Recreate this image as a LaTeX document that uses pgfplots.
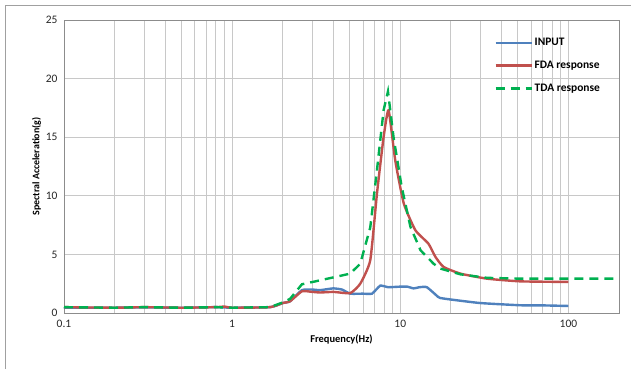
\documentclass[border=0pt]{standalone}
\usepackage{pgfplots}
\pgfplotsset{compat=1.18}
\usepackage{fontspec}
\setmainfont{Carlito}
\definecolor{cblue}{HTML}{4F81BD}
\definecolor{cred}{HTML}{C0504D}
\definecolor{cgreen}{HTML}{00B050}
\definecolor{cgrid}{HTML}{C8C8C8}
\begin{document}
\begin{tikzpicture}[x=1bp,y=1bp]
\path (0,0) rectangle (637,369);
\draw[cgrid!80!black, line width=0.8bp] (5,0) -- (5,364) -- (631,364);
\begin{axis}[
  at={(64bp,56bp)}, anchor=south west,
  scale only axis, width=555bp, height=293bp,
  xmode=log, xmin=0.1, xmax=200, ymin=0, ymax=25,
  ytick={0,5,10,15,20,25},
  xtick={0.1,1,10,100},
  xticklabels={0.1,1,10,100},
  minor xtick={0.2,0.3,0.4,0.5,0.6,0.7,0.8,0.9,2,3,4,5,6,7,8,9,20,30,40,50,60,70,80,90,200},
  grid=both,
  major grid style={cgrid, line width=0.8bp},
  minor grid style={cgrid, line width=0.8bp},
  axis line style={cgrid!70!black, line width=0.8bp},
  tick style={draw=none},
  /pgf/number format/assume math mode=true,
  ticklabel style={font=\fontsize{11.5}{13}\selectfont, text=black!85},
  xticklabel style={yshift=-4bp},
  yticklabel style={xshift=-3bp},
  xlabel={\textbf{Frequency(Hz)}},
  ylabel={\textbf{Spectral Acceleration(g)}},
  xlabel style={font=\fontsize{10.5}{12}\selectfont, yshift=0bp},
  ylabel style={font=\fontsize{10}{12}\selectfont, yshift=-2bp},
  legend style={draw=none, fill=none, at={(0.775,0.945)}, anchor=north west,
    font=\fontsize{11.5}{13}\selectfont\bfseries, row sep=10bp,
    legend cell align=left, inner sep=0pt},
  legend image code/.code={\draw[#1] (0bp,0bp) -- (36bp,0bp);},
]
\addplot[cblue, line width=2.4bp, smooth, tension=0.3] coordinates {
(0.1,0.45) (0.2,0.45) (0.3,0.48) (0.5,0.45) (0.8,0.5) (1.0,0.45) (1.68,0.5)
(2.0,0.85) (2.21,1.0) (2.6,1.95) (3.0,2.0) (3.34,1.95) (3.99,2.1) (4.5,2.0)
(5.04,1.65) (6.0,1.65) (6.79,1.65) (7.6,2.33) (8.5,2.2) (10,2.25) (11,2.25)
(12,2.1) (13,2.2) (14.4,2.2) (16.8,1.37) (17.3,1.28) (20,1.15) (29.9,0.85)
(51.8,0.66) (70,0.65) (100,0.6)
};
\addlegendentry{INPUT}
\addplot[cred, line width=2.4bp, smooth, tension=0.3] coordinates {
(0.1,0.5) (0.2,0.45) (0.3,0.5) (0.5,0.45) (0.8,0.5) (0.9,0.55) (1.0,0.45) (1.68,0.5)
(2.0,0.85) (2.21,1.0) (2.6,1.85) (3.0,1.8) (3.34,1.75) (4.0,1.8) (5.04,1.7)
(5.78,2.5) (6.63,4.5) (7.27,10.2) (7.96,15.0) (8.52,17.3) (9.34,13.0)
(10.5,9.33) (12.3,7.06) (14.7,5.92) (16.2,4.78) (18.1,3.93) (22.8,3.36)
(32.8,2.93) (51.8,2.7) (100,2.65)
};
\addlegendentry{FDA response}
\addplot[cgreen, line width=2.4bp, dash pattern=on 9bp off 6bp] coordinates {
(0.1,0.5) (0.2,0.45) (0.3,0.5) (0.5,0.45) (0.8,0.5) (1.0,0.45) (1.68,0.5)
(2.0,0.9) (2.21,1.2) (2.6,2.45) (3.34,2.79) (5.04,3.36) (5.78,4.2) (6.63,7.3)
(7.27,12.2) (7.96,17.3) (8.45,18.9) (9.12,15.0) (10.2,10.75) (11.5,7.34)
(13.2,5.35) (15.8,4.2) (17.3,3.79) (22.8,3.3) (32.8,3.0) (51.8,2.93) (200,2.93)
};
\addlegendentry{TDA response}
\end{axis}
\end{tikzpicture}
\end{document}
